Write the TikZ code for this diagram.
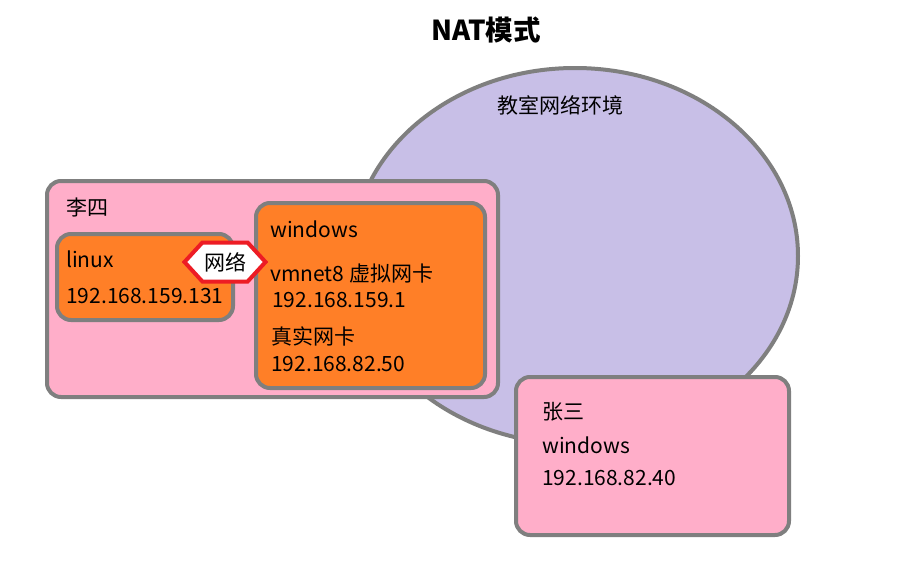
\documentclass[tikz,border=0pt]{standalone}
\usepackage{fontspec}
\setmainfont{Noto Sans CJK SC}
\usetikzlibrary{positioning,shapes.geometric,shapes.symbols}
\definecolor{paintpink}{RGB}{255,174,201}
\definecolor{paintorange}{RGB}{255,127,39}
\definecolor{paintlilac}{RGB}{200,191,231}
\definecolor{paintgray}{RGB}{127,127,127}
\definecolor{paintred}{RGB}{237,28,36}

\begin{document}
\begin{tikzpicture}[x=1pt,y=-1pt,
    box/.style={draw=paintgray, line width=4pt, rounded corners=14pt, inner sep=0pt},
    lbl/.style={anchor=base west, inner sep=0pt, font=\fontsize{21}{25}\selectfont}]
       \useasboundingbox (0,0) rectangle (906,570);
       % classroom network
       \node[ellipse, draw=paintgray, line width=4pt, fill=paintlilac, inner sep=0pt,
             minimum width=446, minimum height=376] (lan) at (575,256) {};
       % boxes
       \node[box, fill=paintpink, minimum width=451, minimum height=216] (lisi) at (272.5,289) {};
       \node[box, fill=paintorange, minimum width=176, minimum height=86] (linux) at (145,277) {};
       \node[box, fill=paintorange, minimum width=229, minimum height=185] (win) at (370.5,295.5) {};
       \node[signal, signal to=west and east, signal pointer angle=95, draw=paintred, fill=white,
             line width=4pt, inner sep=0pt, minimum width=81, minimum height=39,
             font=\fontsize{21}{25}\selectfont] (net) at (225,262) {网络};
       \node[box, fill=paintpink, minimum width=273, minimum height=158] (zhangsan) at (652.5,456) {};
       % texts
       \node[anchor=base, inner sep=0pt, font=\fontsize{27.5}{32}\selectfont\bfseries] (title) at (486,40) {NAT模式};
       \foreach \n/\x/\y/\txt in {lant/497/113/教室网络环境, lisit/66/215/李四,
           linuxt/66/267/linux, linuxip/66/303/192.168.159.131,
           wint/270/237/windows, vmnet/270/281/vmnet8 虚拟网卡, vmnetip/272/307/192.168.159.1,
           realt/271/344/真实网卡, realip/271/371/192.168.82.50,
           zst/542/419/张三, zswin/542/453/windows, zsip/542/485/192.168.82.40}
           {\node[lbl] (\n) at (\x,\y) {\txt};}
    \end{tikzpicture}
\end{document}
